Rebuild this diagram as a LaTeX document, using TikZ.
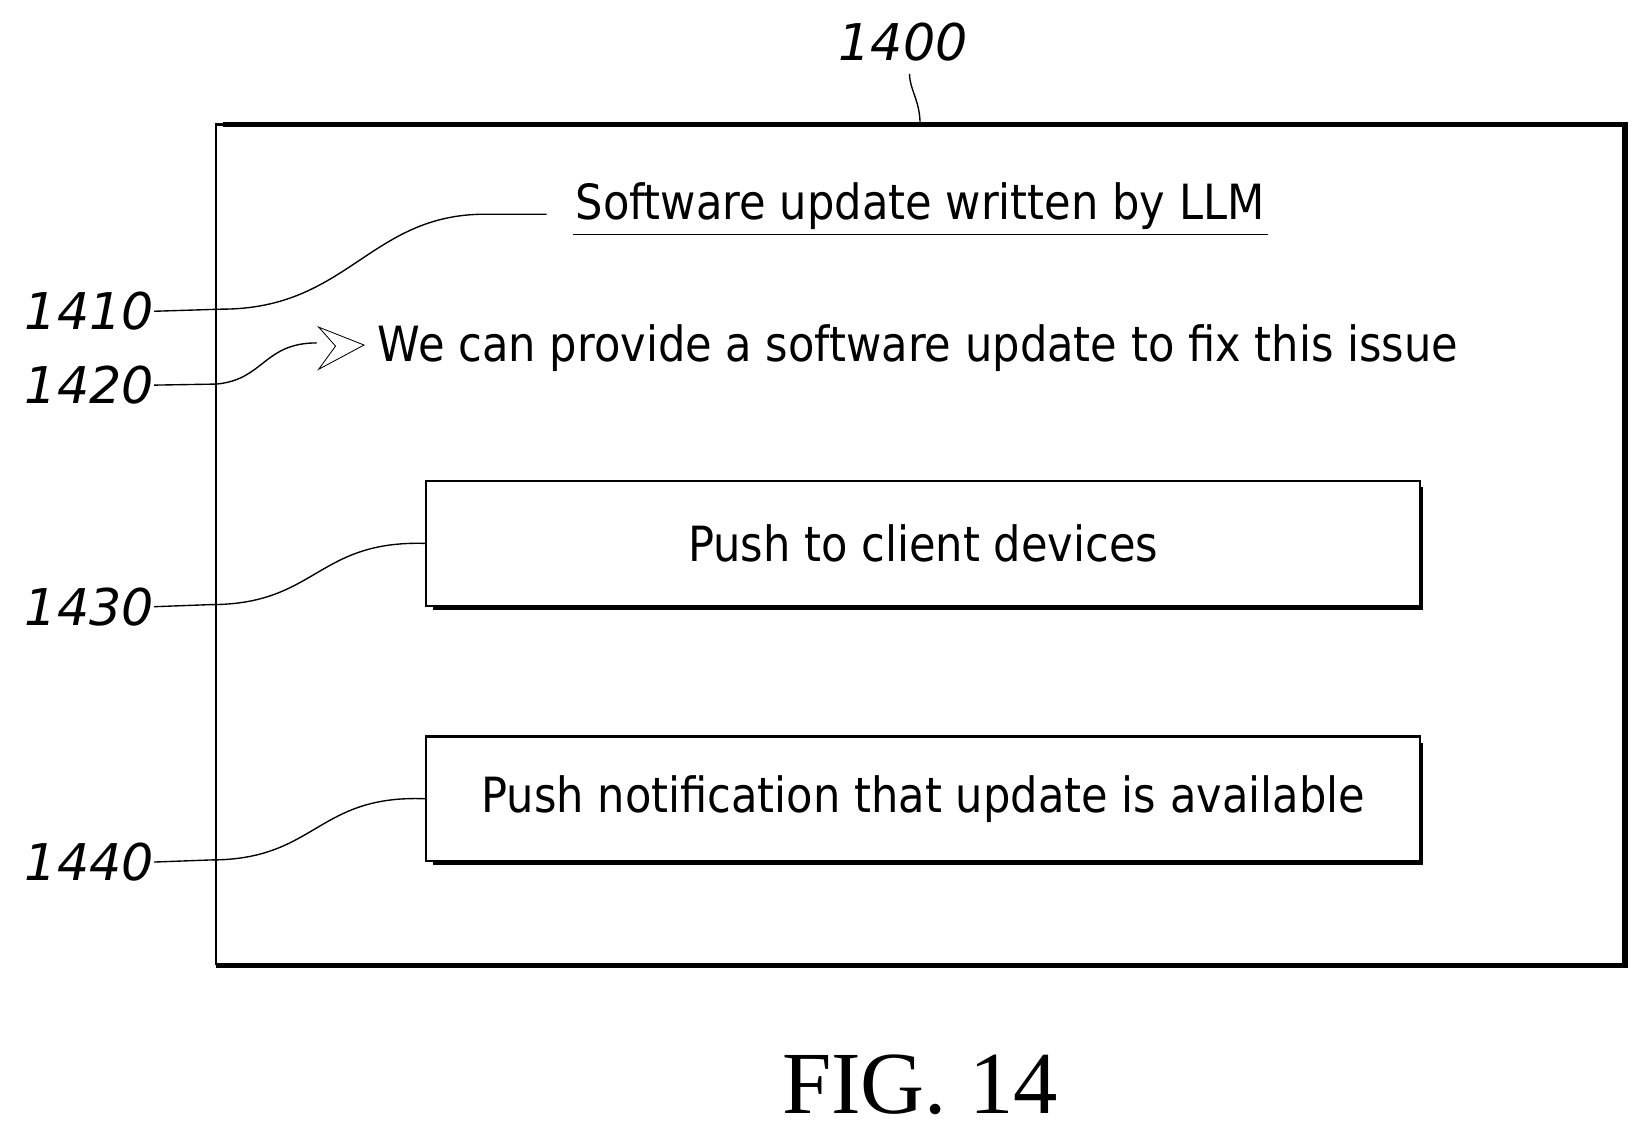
\documentclass[tikz,border=0pt]{standalone}
\usepackage{fontspec}
\setmainfont{Liberation Serif}
\newfontfamily\bodyf[FakeStretch=0.89]{DejaVu Sans}
\newfontfamily\labf{DejaVu Sans}
\begin{document}
\begin{tikzpicture}[x=1pt,y=-1pt,
  txt/.style={font=\bodyf\fontsize{46}{50}\selectfont,inner sep=0pt},
  lab/.style={font=\labf\itshape\fontsize{48}{50}\selectfont,inner sep=0pt},
  lead/.style={line width=1.3pt},
  box/.style={draw,line width=2pt,minimum width=942pt,minimum height=118pt,anchor=north west,inner sep=0pt}]
\useasboundingbox (0,0) rectangle (1560,1074);
% outer box
\draw[line width=5pt] (211,118) -- (1540,118) -- (1540,915) -- (205,915);
\draw[line width=2pt] (205,915) -- (205,118) -- (1540,118);
\node[lab] (l1400) at (856,40) {1400};
\coordinate (t1400) at (872,118);
\draw[lead] (862,70) .. controls (862,85) and (872,95) .. (t1400);
% title
\node[txt] (title) at (872,195) {Software update written by LLM};
\draw[lead] (543,222) -- (1202,222);
\coordinate (e1410) at (518,203);
\node[lab,anchor=east] (l1410) at (146,295) {1410};
\draw[lead] (l1410.east) -- (210,293) .. controls (330,293) and (350,203) .. (460,203) -- (e1410);
% 1420
\node[txt,anchor=west] (msg) at (358,330) {We can provide a software update to fix this issue};
\node[lab,anchor=east] (l1420) at (146,365) {1420};
\coordinate (e1420) at (300,325);
\draw[lead] (l1420.east) -- (205,364) .. controls (250,360) and (250,325) .. (e1420);
\draw[line width=0.8pt,fill=white] (302,310) -- (345,327) -- (302,350) -- (318,328) -- cycle;
% boxes
\fill (410,462) rectangle (1349,578);
\node[box,fill=white] (b1430) at (403,455) {};
\node[txt] at (b1430.center) {Push to client devices};
\node[lab,anchor=east] (l1430) at (146,575) {1430};
\draw[lead] (l1430.east) -- (200,573) .. controls (300,573) and (300,512) .. (b1430.west);
\fill (410,704) rectangle (1349,820);
\node[box,fill=white] (b1440) at (403,697) {};
\node[txt] at (b1440.center) {Push notification that update is available};
\node[lab,anchor=east] (l1440) at (146,817) {1440};
\draw[lead] (l1440.east) -- (200,815) .. controls (300,815) and (300,753) .. (b1440.west);
\node[font=\fontsize{84}{88}\selectfont,inner sep=0pt] (fig) at (872,1028) {FIG. 14};
\end{tikzpicture}
\end{document}
